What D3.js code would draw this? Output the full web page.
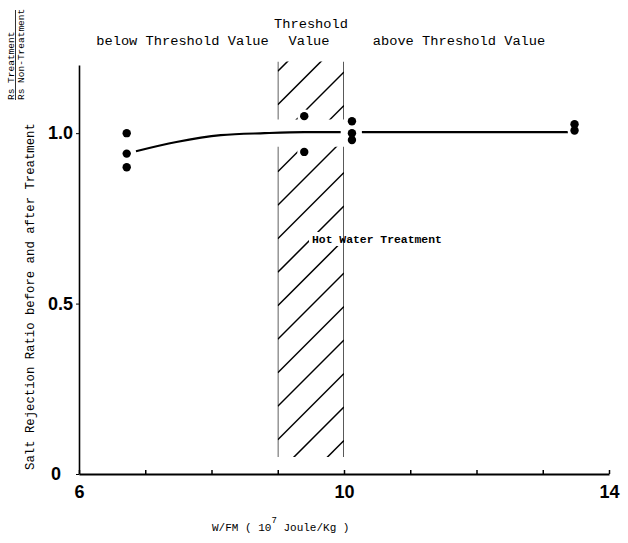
<!DOCTYPE html>
<html>
<head>
<meta charset="utf-8">
<script src="https://cdn.jsdelivr.net/npm/d3@7"></script>
<style>
  body { margin: 0; background: #fff; }
  svg { display: block; }
  .mono { font-family: "Liberation Mono", "DejaVu Sans Mono", monospace; fill: #000; }
  .tick text { font-family: "Liberation Sans", Arial, sans-serif; font-weight: bold; font-size: 18px; fill: #000; }
</style>
</head>
<body>
<svg width="628" height="543"></svg>
<script>
// measured values
var xTicks = [6, 7, 8, 9, 10, 11, 12, 13, 14];
var xLabels = [6, 10, 14];
var yTicks = [0, 0.5, 1.0];
var yLabels = ["0", "0.5", "1.0"];

var pointX = [6.72, 6.72, 6.72, 9.4, 9.4, 10.12, 10.12, 10.12, 13.48, 13.48];
var pointY = [1.0, 0.94, 0.90, 1.05, 0.945, 1.035, 1.0, 0.98, 1.026, 1.008];

var curveX = [6.86, 7.47, 8.14, 8.8, 9.4, 9.95];
var curveY = [0.947, 0.974, 0.994, 1.0, 1.003, 1.003];
var flatX = [10.27, 13.38];
var flatY = [1.003, 1.003];

var bandX = [9, 10];
var bandY = [0.05, 1.21];
var gapY = [0.96, 1.04];

var svg = d3.select("svg");

var x = d3.scaleLinear().domain([6, 14]).range([79, 609]);
var y = d3.scaleLinear().domain([0, 1.2]).range([474, 65]);

// hatched band (threshold region)
var bx0 = x(bandX[0]), bx1 = x(bandX[1]);
var clip = svg.append("clipPath").attr("id", "bandclip");
clip.append("rect")
  .attr("x", bx0).attr("width", bx1 - bx0)
  .attr("y", y(bandY[1])).attr("height", y(gapY[1]) - y(bandY[1]));
clip.append("rect")
  .attr("x", bx0).attr("width", bx1 - bx0)
  .attr("y", y(gapY[0])).attr("height", y(bandY[0]) - y(gapY[0]));

var band = svg.append("g").attr("clip-path", "url(#bandclip)");
var w = bx1 - bx0;
var hatch = d3.range(-9, 14).map(function(k) { return 273 + k * 33.5; });
band.selectAll("line.hatch")
  .data(hatch)
  .enter().append("line")
  .attr("class", "hatch")
  .attr("x1", bx0).attr("y1", function(d) { return d + w; })
  .attr("x2", bx1).attr("y2", function(d) { return d; })
  .attr("stroke", "#000").attr("stroke-width", 1.5);
band.selectAll("line.edge")
  .data(bandX)
  .enter().append("line")
  .attr("class", "edge")
  .attr("x1", function(d) { return x(d); }).attr("x2", function(d) { return x(d); })
  .attr("y1", y(bandY[1])).attr("y2", y(bandY[0]))
  .attr("stroke", "#000").attr("stroke-width", 1.3);

// axes
var xAxis = d3.axisBottom(x)
  .tickValues(xTicks)
  .tickSizeInner(-4).tickSizeOuter(0).tickPadding(9)
  .tickFormat(function(d) { return xLabels.indexOf(d) >= 0 ? d : ""; });
var gx = svg.append("g").attr("transform", "translate(0," + y(0) + ")").call(xAxis);
gx.select(".domain").attr("stroke-width", 2);
gx.selectAll(".tick line").attr("stroke-width", 1.5);
gx.selectAll(".tick text").attr("dy", "0.85em");

var yAxis = d3.axisLeft(y)
  .tickValues(yTicks)
  .tickSizeInner(3).tickSizeOuter(0).tickPadding(3)
  .tickFormat(function(d, i) { return yLabels[i]; });
var gy = svg.append("g").attr("transform", "translate(" + x(6) + ",0)").call(yAxis);
gy.select(".domain").attr("stroke-width", 1.6);
gy.selectAll(".tick text").attr("dx", function(d) { return d === 0 ? -12 : 0; });

// fitted curve
var line = d3.line()
  .x(function(d) { return x(d[0]); })
  .y(function(d) { return y(d[1]); })
  .curve(d3.curveMonotoneX);
svg.append("path")
  .datum(d3.zip(curveX, curveY))
  .attr("d", line)
  .attr("fill", "none").attr("stroke", "#000").attr("stroke-width", 2.2);
svg.append("path")
  .datum(d3.zip(flatX, flatY))
  .attr("d", line)
  .attr("fill", "none").attr("stroke", "#000").attr("stroke-width", 2.2);

// measured points
var pts = d3.zip(pointX, pointY);
svg.selectAll("circle.halo")
  .data(pts).enter().append("circle")
  .attr("class", "halo")
  .attr("cx", function(d) { return x(d[0]); })
  .attr("cy", function(d) { return y(d[1]); })
  .attr("r", 7).attr("fill", "#fff");
svg.selectAll("circle.pt")
  .data(pts).enter().append("circle")
  .attr("class", "pt")
  .attr("cx", function(d) { return x(d[0]); })
  .attr("cy", function(d) { return y(d[1]); })
  .attr("r", 4.2).attr("fill", "#000");

// region labels
var head = svg.append("g").attr("class", "mono").style("font-size", "13.7px");
head.append("text").attr("x", 182.5).attr("y", 45).attr("text-anchor", "middle").text("below Threshold Value");
head.append("text").attr("x", 311).attr("y", 28).attr("text-anchor", "middle").text("Threshold");
head.append("text").attr("x", 309).attr("y", 45).attr("text-anchor", "middle").text("Value");
head.append("text").attr("x", 459).attr("y", 45).attr("text-anchor", "middle").text("above Threshold Value");

svg.append("rect")
  .attr("x", 309).attr("y", 232).attr("width", 34).attr("height", 14)
  .attr("fill", "#fff");
svg.append("text").attr("class", "mono")
  .attr("x", 312).attr("y", 243)
  .style("font-size", "11.4px").style("font-weight", "bold")
  .text("Hot Water Treatment");

// x title
var xt = svg.append("text").attr("class", "mono")
  .attr("x", 212).attr("y", 531).style("font-size", "11px");
xt.append("tspan").text("W/FM ( 10");
xt.append("tspan").attr("dy", -8).style("font-size", "9px").text("7");
xt.append("tspan").attr("dy", 8).text(" Joule/Kg )");

// y title
svg.append("text").attr("class", "mono")
  .attr("transform", "translate(34,470) rotate(-90)")
  .style("font-size", "12.3px")
  .text("Salt Rejection Ratio before and after Treatment");
svg.append("text").attr("class", "mono")
  .attr("transform", "translate(14,100) rotate(-90)")
  .style("font-size", "9.5px")
  .text("Rs Treatment");
svg.append("line")
  .attr("x1", 15.5).attr("x2", 15.5).attr("y1", 100).attr("y2", 10)
  .attr("stroke", "#000").attr("stroke-width", 0.8);
svg.append("text").attr("class", "mono")
  .attr("transform", "translate(24,100) rotate(-90)")
  .style("font-size", "9.5px")
  .text("Rs Non-Treatment");
</script>
</body>
</html>
